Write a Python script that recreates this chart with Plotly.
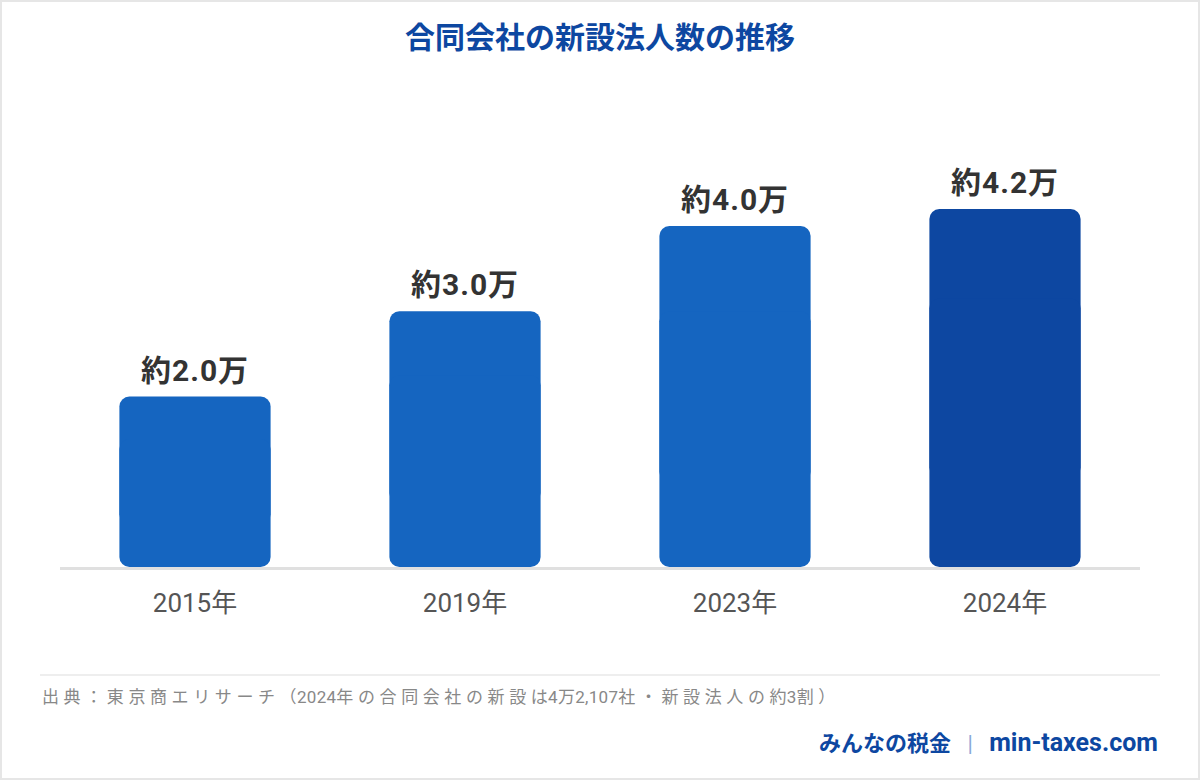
import re
import plotly.graph_objects as go

# data
years = ["2015年", "2019年", "2023年", "2024年"]
counts = [2.0, 3.0, 4.0, 4.2]  # 万社
bar_colors = ["#1565C0", "#1565C0", "#1565C0", "#0D47A1"]

title_text = "合同会社の新設法人数の推移"
source_text = "出典：東京商エリサーチ（2024年の合同会社の新設は4万2,107社・新設法人の約3割）"

W, H = 1200, 780
ML, MR, MT, MB = 60, 60, 100, 213
PW, PH = W - ML - MR, H - MT - MB
FONT = "Roboto, Noto Sans CJK JP"


def px(x, y):
    # page pixels -> paper coords
    return (x - ML) / PW, (H - MB - y) / PH


def spaced(text, cjk_sp, latin_sp):
    # wider tracking on full-width runs, tight on ascii runs (and before them)
    parts = re.findall(r"[\x00-\x7f]+|[^\x00-\x7f]+", text)
    out = []
    for i, p in enumerate(parts):
        if p.isascii():
            out.append(f"<span style='letter-spacing:{latin_sp}px'>{p}</span>")
        elif i + 1 < len(parts):
            out.append(f"<span style='letter-spacing:{cjk_sp}px'>{p[:-1]}</span>")
            out.append(f"<span style='letter-spacing:{latin_sp}px'>{p[-1]}</span>")
        else:
            out.append(f"<span style='letter-spacing:{cjk_sp}px'>{p}</span>")
    return "".join(out)


# each bar = two overlapping pieces so that both ends get rounded corners
upper_base = [v * 0.25 for v in counts]
upper_len = [v - b for v, b in zip(counts, upper_base)]
lower_base = [v * 0.75 for v in counts]
lower_len = [-b for b in lower_base]

fig = go.Figure()
fig.add_trace(go.Bar(
    x=years, y=upper_len, base=upper_base,
    marker=dict(color=bar_colors, cornerradius=10, line=dict(width=0)),
    hoverinfo="skip",
))
fig.add_trace(go.Bar(
    x=years, y=lower_len, base=lower_base,
    marker=dict(color=bar_colors, cornerradius=10, line=dict(width=0)),
    hoverinfo="skip",
))

# value labels above bars
for yr, v in zip(years, counts):
    fig.add_annotation(
        x=yr, y=v, text=f"<b><span style='letter-spacing:1px'>約{v:.1f}万</span></b>", showarrow=False,
        yanchor="bottom", yshift=7,
        font=dict(family=FONT, size=30, color="#333333"),
    )

# title
tx, ty = px(600, 37)
fig.add_annotation(xref="paper", yref="paper", x=tx, y=ty, text=f"<b>{title_text}</b>",
                   showarrow=False, xanchor="center", yanchor="middle",
                   font=dict(family=FONT, size=30, color="#0D47A1"))

# footer
sx, sy = px(40, 697)
fig.add_annotation(xref="paper", yref="paper", x=sx, y=sy,
                   text=spaced(source_text, 4.6, 0.3),
                   showarrow=False, xanchor="left", yanchor="middle",
                   font=dict(family=FONT, size=17, color="#888888"))
bx, by = px(1160, 742)
fig.add_annotation(xref="paper", yref="paper", x=bx, y=by,
                   text="<b>みんなの税金</b>   <span style='color:#8AA8D8'>|</span>   "
                        "<b><span style='font-size:25px'>min-taxes.com</span></b>",
                   showarrow=False, xanchor="right", yanchor="middle",
                   font=dict(family=FONT, size=22, color="#0D47A1"))

lx0, ly = px(40, 675)
lx1, _ = px(1160, 675)
fig.add_shape(type="line", xref="paper", yref="paper", x0=lx0, x1=lx1, y0=ly, y1=ly,
              line=dict(color="#EEEEEE", width=2))

# outer border
bx0, by0 = px(1, H - 1)
bx1, by1 = px(W - 1, 1)
fig.add_shape(type="rect", xref="paper", yref="paper", x0=bx0, x1=bx1, y0=by0, y1=by1,
              line=dict(color="#E6E6E6", width=2))

fig.update_layout(
    width=W, height=H,
    margin=dict(l=ML, r=MR, t=MT, b=MB),
    paper_bgcolor="white", plot_bgcolor="white",
    barmode="overlay", bargap=0.44, showlegend=False,
    font=dict(family=FONT),
    xaxis=dict(showline=True, linecolor="#E0E0E0", linewidth=3, ticks="",
               showgrid=False, ticklabelstandoff=11, layer="below traces",
               tickfont=dict(family=FONT, size=26, color="#555555")),
    yaxis=dict(range=[0, PH / 85.25], visible=False, showgrid=False, zeroline=False),
)

fig.write_html("out.html", config={"displayModeBar": False},
               post_script="document.body.style.margin='0';")
